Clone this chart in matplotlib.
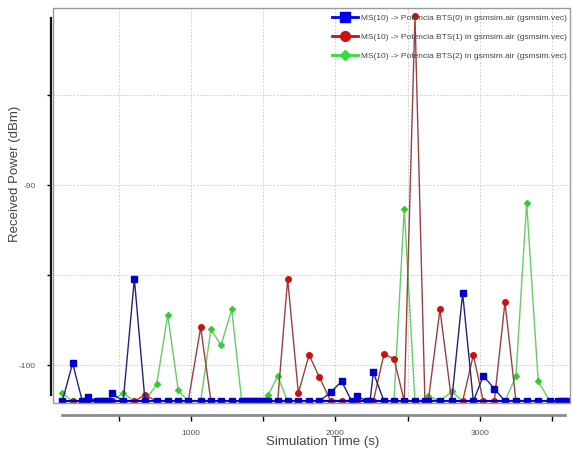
import matplotlib
matplotlib.use("Agg")
import matplotlib.pyplot as plt
from matplotlib.lines import Line2D
from matplotlib.patches import Rectangle

plt.rcParams['font.family'] = ['Liberation Sans', 'DejaVu Sans']

time_s = [109, 181, 248, 271, 285, 347, 368, 389, 410, 430, 451, 531, 608, 682, 763, 839,
          912, 981, 1067, 1138, 1208, 1282, 1351, 1374, 1397, 1420, 1443, 1466, 1489, 1512,
          1535, 1600, 1669, 1743, 1817, 1889, 1967, 2043, 2112, 2147, 2216, 2239, 2262, 2336,
          2405, 2476, 2550, 2619, 2642, 2723, 2804, 2880, 2954, 3023, 3099, 3173, 3249, 3323,
          3403, 3484, 3542, 3561, 3581, 3600]

bts0 = [-102, -99.9, -102, -102, -101.75, -102, -102, -102, -102, -102, -101.55, -102, -95.2, -102, -102, -102,
        -102, -102, -102, -102, -102, -102, -102, -102, -102, -102, -102, -102, -102, -102,
        -102, -102, -102, -102, -102, -102, -101.5, -100.9, -102, -101.7, -102, -102, -100.4, -102,
        -102, -102, -102, -102, -102, -102, -102, -96.0, -102, -100.6, -101.3, -102, -102, -102,
        -102, -102, -102, -102, -102, -102]

bts1 = [-102, -102, -102, -102, -102, -102, -102, -102, -102, -102, -102, -102, -102, -101.65, -102, -102,
        -102, -102, -97.9, -102, -102, -102, -102, -102, -102, -102, -102, -102, -102, -102,
        -102, -102, -95.2, -101.55, -99.43, -100.67, -102, -102, -102, -102, -102, -102, -102, -99.37,
        -99.65, -102, -80.6, -102, -102, -96.9, -102, -102, -99.43, -102, -102, -96.5, -102, -102,
        -102, -102, -102, -102, -102, -102]

bts2 = [-101.55, -102, -102, -102, -102, -102, -102, -102, -102, -102, -102, -101.55, -102, -102, -101.05, -97.2,
        -101.4, -102, -102, -98.0, -98.9, -96.9, -102, -102, -102, -102, -102, -102, -102, -102,
        -101.65, -100.6, -102, -102, -102, -102, -102, -102, -102, -102, -102, -102, -102, -102,
        -102, -91.3, -102, -102, -101.7, -102, -101.46, -102, -102, -102, -102, -102, -100.6, -90.97,
        -100.9, -102, -102, -102, -102, -102]

labels = ["MS(10) -> Potencia BTS(0) in gsmsim.air (gsmsim.vec)",
          "MS(10) -> Potencia BTS(1) in gsmsim.air (gsmsim.vec)",
          "MS(10) -> Potencia BTS(2) in gsmsim.air (gsmsim.vec)"]

y_ticks = [-85, -90, -95, -100]
y_ticklabels = ["", "-90", "", "-100"]
x_ticks = [500, 1000, 1500, 2000, 2500, 3000, 3500]
x_ticklabels = ["", "1000", "", "2000", "", "3000", ""]

W, H = 572, 454
fig = plt.figure(figsize=(W / 100, H / 100), dpi=100)
ax = fig.add_axes([53 / W, 1 - 403 / H, (570 - 53) / W, (403 - 8) / H])

ax.plot(time_s, bts2, color='#66cc66', lw=1.0, marker='D', ms=3, mfc='#33cc33', mec='#33cc33', zorder=3)
ax.plot(time_s, bts1, color='#9a4040', lw=1.0, marker='o', ms=4, mfc='#cc1111', mec='#cc1111', zorder=4)
ax.plot(time_s, bts0, color='#22227a', lw=1.0, marker='s', ms=4, mfc='#0000cc', mec='#0000cc', zorder=5)
ax.plot([t for t, v in zip(time_s, bts0) if v == -102], [v for v in bts0 if v == -102],
        color='#0000cc', lw=1.6, zorder=4.5)

ax.set_xlim(45, 3623)
ax.set_ylim(-102.1, -80.15)

ax.set_yticks(y_ticks)
ax.set_yticklabels(y_ticklabels)
ax.set_xticks(x_ticks)
ax.set_xticklabels(x_ticklabels)
ax.tick_params(axis='y', length=3, width=1, direction='out', pad=8, labelsize=6, labelcolor='#555555')
ax.tick_params(axis='x', length=4, width=1, direction='out', pad=7, labelsize=6, labelcolor='#555555')

ax.grid(True, color='#c4c4c4', linestyle=(0, (2, 2)), lw=0.6)
ax.set_axisbelow(True)

for s in ['top', 'right']:
    ax.spines[s].set_visible(False)
ax.spines['left'].set_position(('outward', 1.5))
ax.spines['left'].set_bounds(-101.65, -80.7)
ax.spines['left'].set_linewidth(1.6)
ax.spines['left'].set_color('#111111')
ax.spines['bottom'].set_position(('outward', 8.5))
ax.spines['bottom'].set_bounds(107, 3590)
ax.spines['bottom'].set_linewidth(2)
ax.spines['bottom'].set_color('#8c8c8c')

frame = Rectangle((0, 0), 1, 1, transform=ax.transAxes, fill=False, edgecolor='#9a9a9a',
                  lw=1.0, clip_on=False, zorder=6)
ax.add_patch(frame)

fig.text(15 / W, 1 - 174 / H, "Received Power (dBm)", rotation=90, ha='center', va='center',
         fontsize=9.5, color='#444444')
fig.text(323 / W, 1 - 442 / H, "Simulation Time (s)", ha='center', va='center',
         fontsize=9.5, color='#444444')

handles = [
    Line2D([], [], color='#0000ee', lw=2, marker='s', ms=7, mfc='#0000ee', mec='#0000ee'),
    Line2D([], [], color='#cc1111', lw=2, marker='o', ms=7, mfc='#cc1111', mec='#cc1111'),
    Line2D([], [], color='#33dd33', lw=2, marker='D', ms=5, mfc='#33dd33', mec='#33dd33'),
]
leg = ax.legend(handles, labels, loc='upper right', bbox_to_anchor=(1.005, 1.0), frameon=False,
                fontsize=6, handlelength=3.2, handletextpad=0.3, labelspacing=1.35,
                borderaxespad=0.3)
for t in leg.get_texts():
    t.set_color('#444444')

fig.savefig("out.png", dpi=100)
